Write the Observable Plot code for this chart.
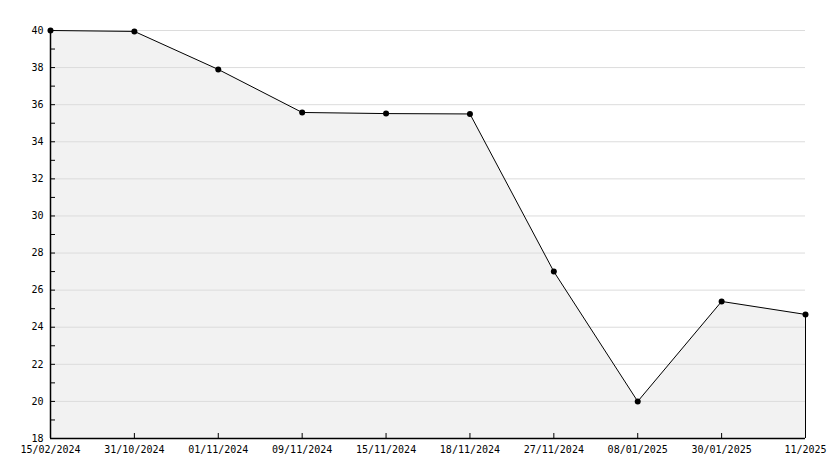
<!DOCTYPE html>
<html><head><meta charset="utf-8">
<script src="https://cdn.jsdelivr.net/npm/d3@7"></script>
<script src="https://cdn.jsdelivr.net/npm/@observablehq/plot@0.6"></script>
<style>
html,body{margin:0;padding:0;background:#fff;overflow:hidden;}
svg{display:block;font-family:"DejaVu Sans Mono",monospace;}
</style>
</head><body>
<div id="chart"></div>
<script>
const dates = ["15/02/2024","31/10/2024","01/11/2024","09/11/2024","15/11/2024","18/11/2024","27/11/2024","08/01/2025","30/01/2025","11/2025"];
const values = [40, 39.95, 37.9, 35.58, 35.52, 35.5, 27.0, 20.0, 25.39, 24.69];
const majorTicks = [18,20,22,24,26,28,30,32,34,36,38,40];
const minorTicks = [19,21,23,25,27,29,31,33,35,37,39];
const gridTicks = [20,22,24,26,28,30,32,34,36,38,40];

const data = dates.map((d,i)=>({i, date:d, value:values[i]}));
const last = data[data.length-1];
const idx = d3.range(dates.length);

const chart = Plot.plot({
  width: 834, height: 468,
  marginLeft: 50, marginRight: 29, marginTop: 30, marginBottom: 30,
  style: {fontFamily: "DejaVu Sans Mono, monospace", fontSize: "10px", color: "#000", background: "#fff"},
  x: {type: "linear", domain: [0, dates.length - 1], label: null},
  y: {domain: [18, 40], label: null},
  marks: [
    Plot.areaY(data, {x: "i", y1: 18, y2: "value", fill: "#f2f2f2"}),
    Plot.ruleY(gridTicks, {stroke: "#dcdcdc", strokeWidth: 1}),
    Plot.ruleX([last], {x: "i", y1: 18, y2: "value", stroke: "#000"}),
    Plot.lineY(data, {x: "i", y: "value", stroke: "#000", strokeWidth: 1}),
    Plot.dot(data, {x: "i", y: "value", r: 3, fill: "#000", stroke: "none"}),
    Plot.axisY({ticks: majorTicks, tickSize: -5, tickPadding: 12, tickFormat: d => String(d)}),
    Plot.axisY({ticks: minorTicks, tickSize: -5, tickFormat: () => ""}),
    Plot.axisX({ticks: idx, tickSize: -5, tickPadding: 12, tickFormat: i => dates[i]}),
    Plot.ruleY([18], {stroke: "#000", strokeWidth: 1.5}),
    Plot.ruleX([0], {stroke: "#000", strokeWidth: 1.5})
  ]
});
document.getElementById("chart").appendChild(chart);
</script>
</body></html>
